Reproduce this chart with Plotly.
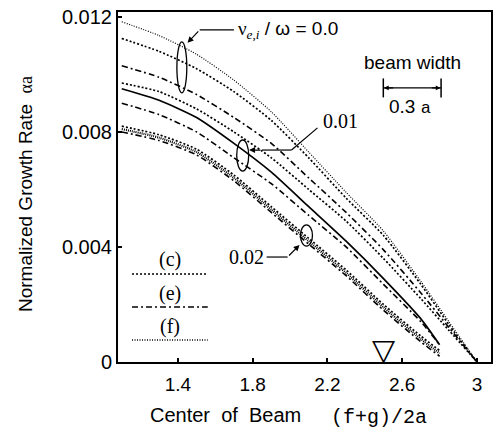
import plotly.graph_objects as go

# ---------------- data ----------------
x_full = [1.1, 1.3, 1.5, 1.7, 1.9, 2.1, 2.3, 2.5, 2.7, 2.85, 3.0]
x_short = [1.1, 1.3, 1.5, 1.7, 1.9, 2.1, 2.3, 2.5, 2.7, 2.8]

# nu/omega = 0.0
f_00 = [0.01183, 0.01135, 0.0107, 0.0098, 0.0087, 0.0073, 0.0059, 0.00455, 0.0028, 0.0014, 0.0]
c_00 = [0.01125, 0.0108, 0.0102, 0.0094, 0.0084, 0.0071, 0.0057, 0.0044, 0.0027, 0.0013, 0.0]
e_00 = [0.0103, 0.0099, 0.0093, 0.0085, 0.0076, 0.0064, 0.0052, 0.0039, 0.0024, 0.0012, 0.0]
# nu/omega = 0.01
c_01 = [0.0097, 0.0094, 0.0088, 0.0080, 0.0071, 0.0060, 0.0049, 0.0036, 0.0022, 0.0011, 0.0]
f_01 = [0.0095, 0.0091, 0.0085, 0.0076, 0.0066, 0.0054, 0.0042, 0.0029, 0.0015, 0.0006]
e_01 = [0.0090, 0.0086, 0.0080, 0.0071, 0.0062, 0.0051, 0.0040, 0.0027, 0.0014, 0.0006]
# nu/omega = 0.02
c_02 = [0.0082, 0.0079, 0.0074, 0.0065, 0.0054, 0.0043, 0.0032, 0.0020, 0.0009, 0.0004]
f_02 = [0.0081, 0.0078, 0.0073, 0.0064, 0.0053, 0.0042, 0.0031, 0.0019, 0.0008, 0.0003]
e_02 = [0.0080, 0.0077, 0.0072, 0.0063, 0.0052, 0.0041, 0.0030, 0.0018, 0.0007, 0.0002]

x_ticks = [1.4, 1.8, 2.2, 2.6, 3]
x_ticktext = ["1.4", "1.8", "2.2", "2.6", "3"]
y_ticks = [0, 0.004, 0.008, 0.012]
y_ticktext = ["0", "0.004", "0.008", "0.012"]
legend_labels = ["(c)", "(e)", "(f)"]

# ---------------- styles ----------------
SANS = "Liberation Sans, Arial, sans-serif"
SERIF = "Liberation Serif, Times New Roman, serif"
MONO = "Liberation Mono, Courier New, monospace"
DASH_C = "2px,2px"
DASH_E = "6px,3px,2px,3px"
DASH_F = "1px,1.5px"

series = [
    (x_full, f_00, DASH_F, 1.2),
    (x_full, c_00, DASH_C, 1.7),
    (x_full, e_00, DASH_E, 1.6),
    (x_full, c_01, DASH_C, 1.7),
    (x_short, f_01, "solid", 1.7),
    (x_short, e_01, DASH_E, 1.6),
    (x_short, c_02, DASH_C, 1.7),
    (x_short, f_02, "1px,1px", 2.2),
    (x_short, e_02, DASH_E, 1.6),
]

fig = go.Figure()
for xs, ys, dash, w in series:
    fig.add_trace(go.Scatter(x=xs, y=ys, mode="lines",
                             line=dict(color="black", width=w, dash=dash, shape="spline", smoothing=0.6),
                             showlegend=False, hoverinfo="skip"))

shapes = []
annotations = []

def ellipse(x0, x1, y0, y1):
    shapes.append(dict(type="circle", xref="x", yref="y", x0=x0, x1=x1, y0=y0, y1=y1,
                       line=dict(color="black", width=1.3)))

def seg(x0, y0, x1, y1, w=1.2, dash="solid"):
    shapes.append(dict(type="line", xref="x", yref="y", x0=x0, y0=y0, x1=x1, y1=y1,
                       line=dict(color="black", width=w, dash=dash)))

def arrow(xt, yt, xs, ys, head=2, size=1.0):
    annotations.append(dict(x=xt, y=yt, ax=xs, ay=ys, xref="x", yref="y", axref="x", ayref="y",
                            text="", showarrow=True, arrowhead=head, arrowsize=size,
                            arrowwidth=1.2, arrowcolor="black"))

def text(x, y, t, size=19, family=SANS, xanchor="center", yanchor="middle", xref="x", yref="y", **kw):
    d = dict(x=x, y=y, xref=xref, yref=yref, text=t, showarrow=False,
             font=dict(size=size, family=family, color="black"),
             xanchor=xanchor, yanchor=yanchor)
    d.update(kw)
    annotations.append(d)

# ellipses marking the groups
ellipse(1.395, 1.448, 0.00936, 0.01113)
ellipse(1.715, 1.779, 0.00664, 0.00772)
ellipse(2.056, 2.120, 0.00403, 0.00477)

# leader lines
seg(1.700, 0.01155, 1.517, 0.01155)
arrow(1.452, 0.01110, 1.517, 0.01155)
seg(2.147, 0.00814, 2.008, 0.00737)
seg(2.008, 0.00737, 1.85, 0.00737)
arrow(1.781, 0.00737, 1.85, 0.00737)
seg(1.875, 0.00365, 1.987, 0.00365)
arrow(2.051, 0.00407, 1.987, 0.00365)

text(1.71, 0.01155, "<span style='font-family:Liberation Serif'>ν<sub><i>e,i</i></sub></span> / ω = 0.0",
     size=19, xanchor="left")
text(2.168, 0.00838, "0.01", size=20, family=SERIF, xanchor="left")
text(1.872, 0.00365, "0.02", size=20, family=SERIF, xanchor="right")

# beam width scale bar
seg(2.499, 0.00953, 2.808, 0.00953, w=1.2)
seg(2.499, 0.00920, 2.499, 0.00986, w=1.5)
seg(2.808, 0.00920, 2.808, 0.00986, w=1.5)
arrow(2.502, 0.00953, 2.56, 0.00953, head=2, size=0.8)
arrow(2.805, 0.00953, 2.75, 0.00953, head=2, size=0.8)
text(2.655, 0.01040, "beam width", size=19)
text(2.64, 0.00885, "0.3 <span style='font-family:Liberation Mono;font-size:17px'>a</span>", size=19)

# line-style key
key_y = [0.00306, 0.00191, 0.000765]
key_dash = [DASH_C, DASH_E, DASH_F]
key_lab_y = [0.00355, 0.00238, 0.00125]
for lab, ky, kd, ly in zip(legend_labels, key_y, key_dash, key_lab_y):
    seg(1.155, ky, 1.56, ky, w=1.6, dash=kd)
    text(1.36, ly, lab, size=20, family=SERIF)

# triangle marker at x = 2.5
text(2.5, 0, "▽", size=30, family="DejaVu Sans", yanchor="bottom", yshift=-7)

# axis titles
text(0, 0.48, "Normalized Growth Rate  <span style='font-family:Liberation Serif;font-size:18px'>αa</span>",
     size=19, xref="paper", yref="paper", textangle=-90, xshift=-93)
text(0.08, 0, "Center  of  Beam", size=20, xref="paper", yref="paper", xanchor="left", yshift=-53)
text(0.565, 0, "(f+g)/2a", size=20, family=MONO, xref="paper", yref="paper", xanchor="left", yshift=-55)

fig.update_layout(
    width=495, height=437,
    margin=dict(l=118, r=2, t=12, b=75),
    paper_bgcolor="white", plot_bgcolor="white",
    shapes=shapes, annotations=annotations,
    font=dict(family=SANS, color="black", size=19),
)
fig.update_xaxes(range=[1.08, 3.075], tickvals=x_ticks, ticktext=x_ticktext,
                 ticks="inside", ticklen=4, tickwidth=2, tickcolor="black",
                 showline=True, linewidth=2, linecolor="black", mirror=True,
                 showgrid=False, zeroline=False, ticklabelstandoff=4,
                 tickfont=dict(size=19, family=SANS))
fig.update_yaxes(range=[0, 0.01217], tickvals=y_ticks, ticktext=y_ticktext,
                 ticks="inside", ticklen=4, tickwidth=2, tickcolor="black",
                 showline=True, linewidth=2, linecolor="black", mirror=True,
                 showgrid=False, zeroline=False,
                 tickfont=dict(size=20, family=SANS))

fig.write_html("out.html")
